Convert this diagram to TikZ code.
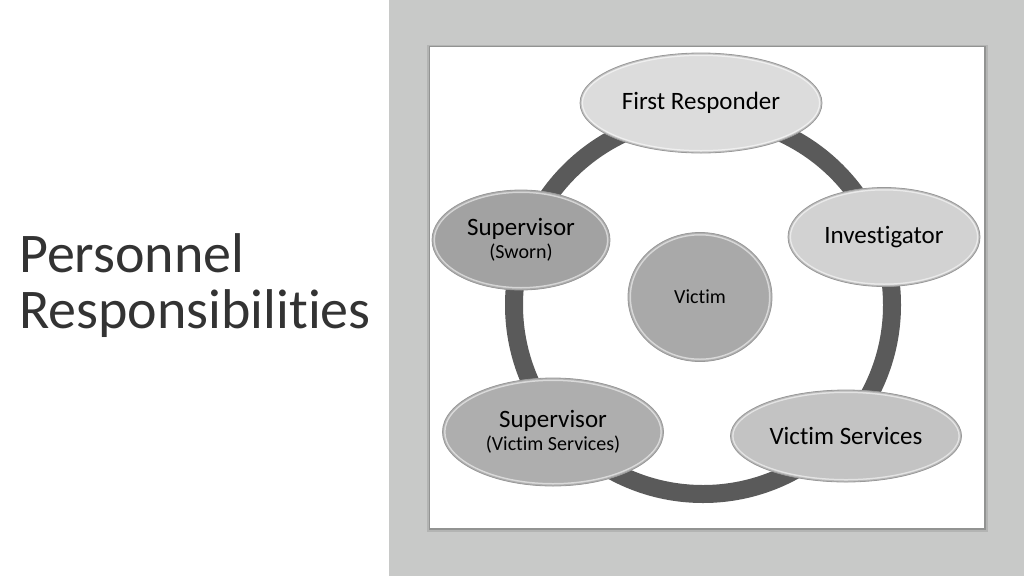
\documentclass[tikz,border=0pt]{standalone}
\usepackage{fontspec}
\setmainfont{Carlito}[RawFeature={-liga}]
\usetikzlibrary{shapes.geometric,calc}
\definecolor{panel}{HTML}{C8C9C8}
\definecolor{ringc}{HTML}{5A5A5A}
\definecolor{cfr}{HTML}{DCDCDC}
\definecolor{cinv}{HTML}{D2D2D2}
\definecolor{cvs}{HTML}{C3C3C3}
\definecolor{csvs}{HTML}{AEAEAE}
\definecolor{cssw}{HTML}{A2A2A2}
\definecolor{cvic}{HTML}{A9A9A9}
\tikzset{
  bub/.style={ellipse, inner sep=0pt, draw=black!40, line width=0.8pt, fill=#1,
    text=black, align=center,
    path picture={
      \path (path picture bounding box.north east) coordinate (pne)
            (path picture bounding box.south west) coordinate (psw);
      \draw[white, opacity=.55, line width=6pt]
        let \p1=(pne), \p2=(psw) in
        ($(pne)!.5!(psw)$) ellipse ({abs(\x1-\x2)/2} and {abs(\y1-\y2)/2});
      \draw[black, opacity=.18, line width=3pt]
        let \p1=(pne), \p2=(psw) in
        ($(pne)!.5!(psw)$) ellipse ({abs(\x1-\x2)/2} and {abs(\y1-\y2)/2});
    }},
  big/.style={font=\fontsize{25}{27}\selectfont},
  small/.style={font=\fontsize{20}{23}\selectfont},
  title/.style={anchor=base west, inner sep=0pt, text=black!80,
    font=\fontsize{56}{56}\selectfont}
}
\begin{document}
\begin{tikzpicture}[x=1pt,y=-1pt]
\useasboundingbox (0,0) rectangle (1024,576);
\fill[white] (0,0) rectangle (1024,576);
\fill[panel] (389,0) rectangle (1024,576);
% framed picture with soft shadow
\fill[black, opacity=.10] (427,45) rectangle (987.5,531.5);
\fill[black, opacity=.18] (428.5,46) rectangle (986,530);
\fill[white] (430,47) rectangle (984,528);
% title
\node[title] (t1) at (19,272) {Personnel};
\node[title] (t2) at (19,328) {Responsibilities};
% ring
\draw[ringc, line width=18pt] (703,305) circle (189);
% nodes
\node[bub=cfr, big, minimum width=242pt, minimum height=100pt] (fr) at (701,103) {First Responder};
\node[bub=cinv, big, minimum width=192pt, minimum height=99pt] (inv) at (884,237) {Investigator};
\node[bub=cvs, big, minimum width=231pt, minimum height=92pt] (vs) at (846,436) {Victim Services};
\node[bub=csvs, small, minimum width=221pt, minimum height=108pt] (svs) at (553,432)
  {{\fontsize{25}{27}\selectfont Supervisor}\\(Victim Services)};
\node[bub=cssw, small, minimum width=178pt, minimum height=100pt] (ssw) at (521,240)
  {{\fontsize{25}{27}\selectfont Supervisor}\\(Sworn)};
\node[bub=cvic, small, minimum width=144pt, minimum height=129pt] (vic) at (700,297) {Victim};
\end{tikzpicture}
\end{document}
